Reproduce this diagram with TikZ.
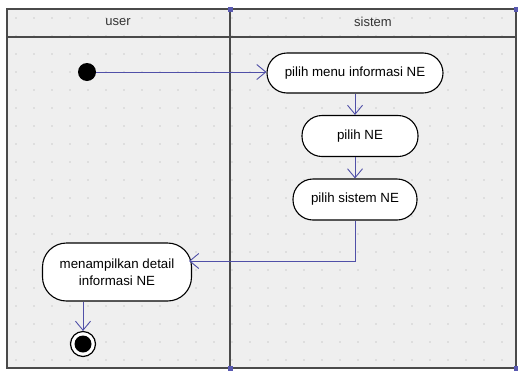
\documentclass[tikz,border=0pt]{standalone}
\usepackage{fontspec}
\setmainfont{Liberation Sans}
\usetikzlibrary{arrows.meta}
\definecolor{bgc}{HTML}{EFEFEF}
\definecolor{framec}{HTML}{4A4A4A}
\definecolor{connc}{HTML}{5050A8}
\definecolor{dotc}{HTML}{CDCDCD}
\definecolor{handlec}{HTML}{5858B0}
\tikzset{
  act/.style={draw=black, line width=1.1pt, fill=white, rounded corners=20pt,
    minimum height=40pt, inner sep=0pt, font=\fontsize{13.3}{16}\selectfont, align=center},
  conn/.style={draw=connc, line width=0.9pt, -{Straight Barb[length=9pt,width=15pt]}},
  lane/.style={draw=framec, line width=1.4pt},
  handle/.style={fill=handlec, minimum size=5pt, inner sep=0pt},
  lbl/.style={font=\fontsize{13}{15}\selectfont, text=black!80}
}
\begin{document}
\begin{tikzpicture}[x=1pt,y=-1pt]
\useasboundingbox (0,0) rectangle (518,370);
\fill[white] (0,0) rectangle (518,370);
\fill[bgc] (7,9) rectangle (516,368);
% dot grid
\foreach \xx in {16,34,...,510} {
  \foreach \yy in {18,36,...,364} {
    \fill[dotc] (\xx,\yy) circle (0.9pt);
  }
}
% swimlanes
\draw[lane] (7,9) rectangle (516,368);
\draw[lane] (7,37) -- (516,37);
\draw[lane] (230,9) -- (230,368);
\node[lbl] (huser) at (118,22) {user};
\node[lbl] (hsis) at (373,22) {sistem};
\node[handle] (h1) at (230,9) {};
\node[handle] (h2) at (516,9) {};
\node[handle] (h3) at (230,368) {};
\node[handle] (h4) at (516,368) {};
% nodes
\node[circle, fill=black, minimum size=18pt, inner sep=0pt] (start) at (87,72) {};
\node[act, minimum width=176pt] (menu) at (355,73) {pilih menu informasi NE};
\node[act, minimum width=116pt, minimum height=41pt] (pne) at (360,136) {pilih NE};
\node[act, minimum width=124pt, minimum height=41pt] (sne) at (355,199.5) {pilih sistem NE};
\node[act, minimum width=149pt, minimum height=58pt, rounded corners=24pt] (tampil) at (117,272) {menampilkan detail\\[1pt]informasi NE};
\node[circle, draw=black, line width=1.2pt, fill=white, minimum size=25pt, inner sep=0pt] (end) at (83,344) {};
\node[circle, fill=black, minimum size=17pt, inner sep=0pt] (endin) at (end.center) {};
% connectors
\draw[conn] (start.east) -- (start -| menu.west);
\draw[conn] (menu.south) -- (menu.south |- pne.north);
\draw[conn] (sne |- pne.south) -- (sne.north);
\draw[conn] (sne.south) |- ([xshift=-3pt,yshift=11pt]tampil.east);
\draw[conn] (end |- tampil.south) -- (end.north);
\end{tikzpicture}
\end{document}
